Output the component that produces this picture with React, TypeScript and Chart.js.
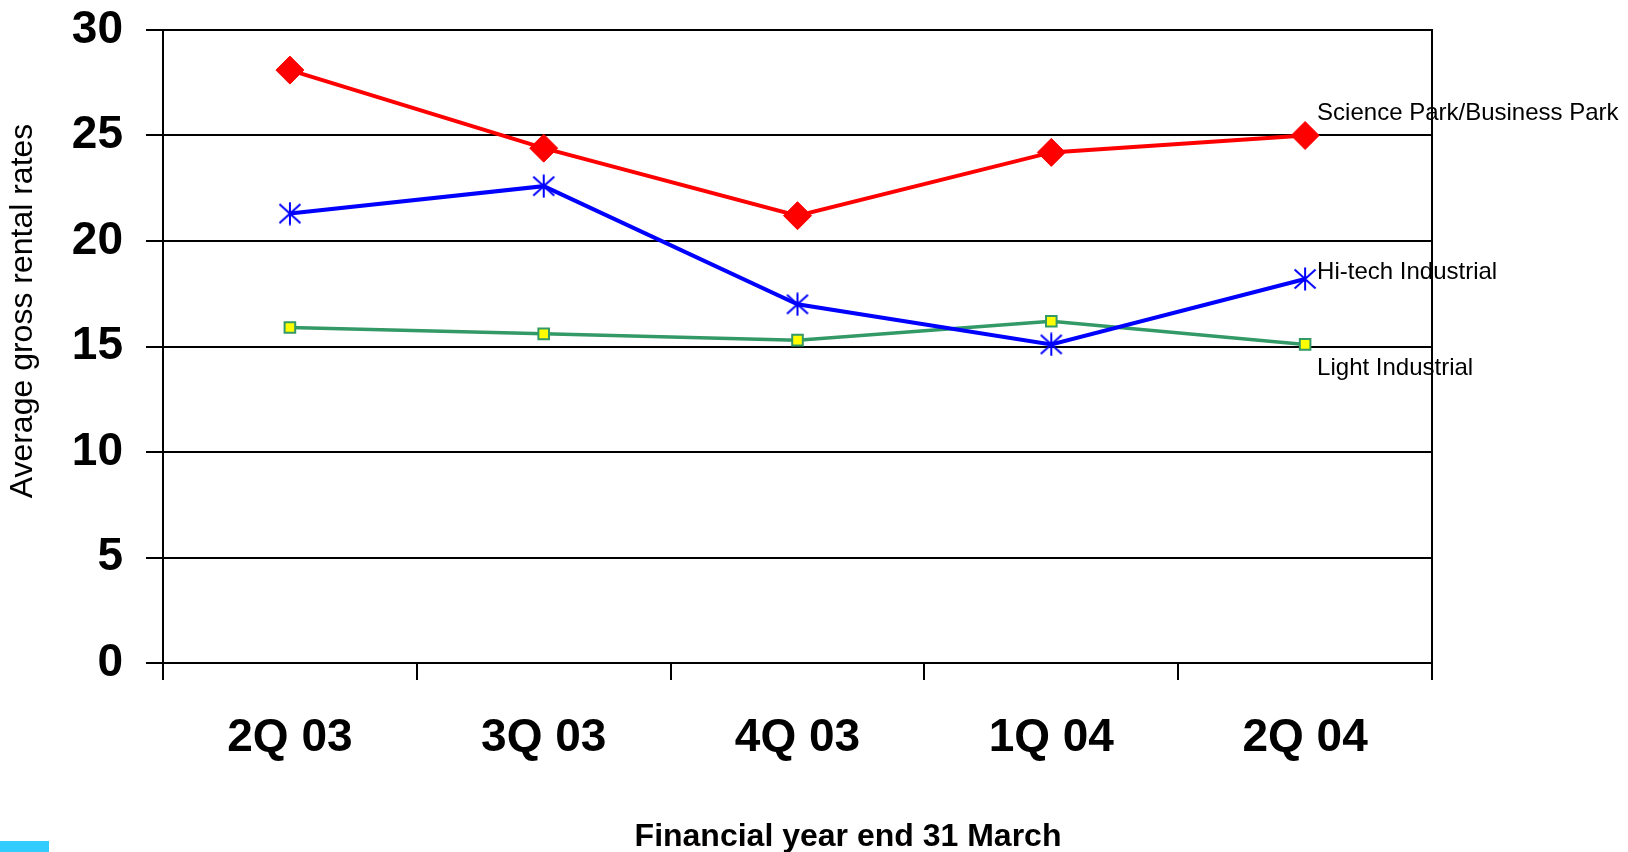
import { useEffect, useRef } from "react";
import { Chart, registerables } from "chart.js";

Chart.register(...registerables);

// Quarterly average gross rental rates by property type
const quarters = ["2Q 03", "3Q 03", "4Q 03", "1Q 04", "2Q 04"];
const scienceParkRates = [28.1, 24.4, 21.2, 24.2, 25.0];
const hiTechRates = [21.3, 22.6, 17.0, 15.1, 18.2];
const lightIndustrialRates = [15.9, 15.6, 15.3, 16.2, 15.1];
const seriesNames = ["Science Park/Business Park", "Hi-tech Industrial", "Light Industrial"];
const xTitle = "Financial year end 31 March";
const yTitle = "Average gross rental rates";
const yMin = 0;
const yMax = 30;
const yStep = 5;

const FONT = "'Liberation Sans', Arial, Helvetica, sans-serif";

// End-of-line label placement relative to the last point (baseline offset)
const labelOffsets = [
  { dx: 12, dy: -16 },
  { dx: 12, dy: 0 },
  { dx: 12, dy: 31 },
];

// Asterisk marker: vertical stroke plus an X
function makeStarMarker(): HTMLCanvasElement {
  const c = document.createElement("canvas");
  c.width = 24;
  c.height = 24;
  const g = c.getContext("2d")!;
  g.strokeStyle = "#0000FF";
  g.lineWidth = 2;
  g.beginPath();
  g.moveTo(12, 0.5);
  g.lineTo(12, 23.5);
  g.moveTo(1.5, 2.5);
  g.lineTo(22.5, 21.5);
  g.moveTo(22.5, 2.5);
  g.lineTo(1.5, 21.5);
  g.stroke();
  return c;
}

const frameAndLabels = {
  id: "frameAndLabels",
  beforeDatasetsDraw(chart: any) {
    const { ctx, chartArea } = chart;
    ctx.save();
    ctx.strokeStyle = "#000";
    ctx.lineWidth = 2;
    ctx.beginPath();
    ctx.moveTo(chartArea.right, chartArea.top - 1);
    ctx.lineTo(chartArea.right, chartArea.bottom);
    ctx.stroke();
    ctx.restore();
  },
  afterDraw(chart: any) {
    const { ctx } = chart;
    ctx.save();
    ctx.fillStyle = "#000";

    // series names at the end of each line
    ctx.font = `24px ${FONT}`;
    ctx.textAlign = "left";
    ctx.textBaseline = "alphabetic";
    chart.data.datasets.forEach((_ds: any, i: number) => {
      const meta = chart.getDatasetMeta(i);
      const last = meta.data[meta.data.length - 1];
      if (!last) return;
      const off = labelOffsets[i];
      ctx.fillText(seriesNames[i], last.x + off.dx, last.y + off.dy);
    });

    // axis titles
    ctx.textAlign = "center";
    ctx.textBaseline = "middle";
    ctx.font = `bold 32px ${FONT}`;
    ctx.fillText(xTitle, 848, 837);

    ctx.save();
    ctx.translate(23, 311);
    ctx.rotate(-Math.PI / 2);
    ctx.font = `32px ${FONT}`;
    ctx.fillText(yTitle, 0, 0);
    ctx.restore();

    // small accent block in the lower-left corner
    ctx.fillStyle = "#33CCFF";
    ctx.fillRect(0, 841, 49, 11);
    ctx.restore();
  },
};

export default function App() {
  const canvasRef = useRef<HTMLCanvasElement | null>(null);

  useEffect(() => {
    const canvas = canvasRef.current;
    if (!canvas) return;
    const star = makeStarMarker();

    const chart = new Chart(canvas, {
      type: "line",
      data: {
        labels: quarters,
        datasets: [
          {
            label: seriesNames[0],
            data: scienceParkRates,
            borderColor: "#FF0000",
            backgroundColor: "#FF0000",
            borderWidth: 4,
            pointStyle: "rectRot",
            pointRadius: 14,
            pointBorderWidth: 1,
            pointBorderColor: "#FF0000",
            pointBackgroundColor: "#FF0000",
            tension: 0,
            order: 1,
          },
          {
            label: seriesNames[1],
            data: hiTechRates,
            borderColor: "#0000FF",
            backgroundColor: "#0000FF",
            borderWidth: 4,
            pointStyle: star as any,
            pointRadius: 12,
            tension: 0,
            order: 2,
          },
          {
            label: seriesNames[2],
            data: lightIndustrialRates,
            borderColor: "#339966",
            backgroundColor: "#FFFF00",
            borderWidth: 3.5,
            pointStyle: "rect",
            pointRadius: 7.5,
            pointBorderWidth: 2,
            pointBorderColor: "#339966",
            pointBackgroundColor: "#FFFF00",
            tension: 0,
            order: 3,
          },
        ],
      },
      options: {
        responsive: false,
        animation: false,
        events: [],
        layout: { padding: { top: 30, right: 196, left: 0, bottom: 0 } },
        plugins: {
          legend: { display: false },
          tooltip: { enabled: false },
        },
        scales: {
          x: {
            type: "category",
            offset: true,
            grid: {
              display: true,
              drawOnChartArea: false,
              drawTicks: true,
              tickLength: 17,
              offset: true,
              color: "#000",
              lineWidth: 2,
            },
            border: { display: true, color: "#000", width: 2 },
            ticks: {
              color: "#000",
              font: { family: FONT, size: 46, weight: "bold" },
              padding: 31,
              maxRotation: 0,
              autoSkip: false,
            },
            afterFit(scale: any) {
              scale.height = 189;
              scale.paddingLeft = 0;
              scale.paddingRight = 0;
            },
          },
          y: {
            min: yMin,
            max: yMax,
            grid: {
              color: "#000",
              lineWidth: 2,
              tickLength: 17,
            },
            border: { display: true, color: "#000", width: 2 },
            ticks: {
              stepSize: yStep,
              color: "#000",
              font: { family: FONT, size: 46, weight: "bold" },
              padding: 23,
            },
            afterFit(scale: any) {
              scale.width = 163;
              scale.paddingTop = 0;
              scale.paddingBottom = 0;
            },
          },
        },
      },
      plugins: [frameAndLabels],
    });

    return () => chart.destroy();
  }, []);

  return (
    <div style={{ position: "absolute", left: 0, top: 0, width: 1628, height: 852, background: "#fff" }}>
      <canvas ref={canvasRef} width={1628} height={852} style={{ display: "block" }} />
    </div>
  );
}
